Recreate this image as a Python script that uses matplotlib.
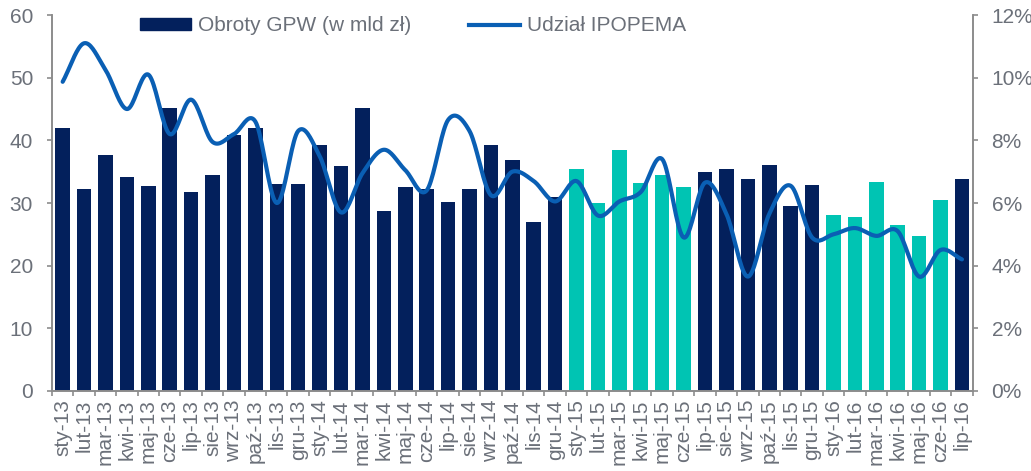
import numpy as np
import matplotlib.pyplot as plt
from matplotlib.patches import Patch
from matplotlib.lines import Line2D

plt.rcParams['font.family'] = ['Liberation Sans', 'DejaVu Sans']

months = ["sty", "lut", "mar", "kwi", "maj", "cze", "lip", "sie", "wrz", "paź", "lis", "gru"]
labels = [m + "-" + y for y in ["13", "14", "15"] for m in months] + \
         [m + "-16" for m in months[:7]]

# Obroty GPW (w mld zł)
turnover = [41.9, 32.3, 37.7, 34.1, 32.7, 45.2, 31.8, 34.5, 40.8, 42.0, 33.0, 33.0,
            39.3, 35.9, 45.2, 28.8, 32.6, 32.2, 30.1, 32.2, 39.2, 36.8, 26.9, 31.0,
            35.4, 30.0, 38.4, 33.2, 34.5, 32.5, 35.0, 35.4, 33.9, 36.1, 29.6, 32.8,
            28.1, 27.7, 33.3, 26.5, 24.7, 30.5, 33.8]

# Udział IPOPEMA (%)
share = [9.87, 11.1, 10.25, 9.0, 10.1, 8.2, 9.3, 7.95, 8.2, 8.6, 6.0, 8.3,
         7.5, 5.7, 6.95, 7.7, 7.05, 6.4, 8.65, 8.3, 6.25, 7.0, 6.7, 6.05,
         6.7, 5.6, 6.05, 6.35, 7.4, 4.9, 6.65, 5.65, 3.65, 5.65, 6.55, 4.9,
         5.0, 5.2, 4.95, 5.1, 3.65, 4.5, 4.2]

# highlighted months (teal bars)
highlight = ["sty-15", "lut-15", "mar-15", "kwi-15", "maj-15", "cze-15",
             "sty-16", "lut-16", "mar-16", "kwi-16", "maj-16", "cze-16"]

navy = "#03205c"
teal = "#00c4b3"
line_c = "#0a5fb4"
grey = "#6b7079"
axis_c = "#8c8c8c"
fs = 15


def smooth(xs, ys, n=20):
    # Catmull-Rom curve through the points, like Excel's smoothed line
    xs = np.asarray(xs, float)
    ys = np.asarray(ys, float)
    px = np.concatenate([[2 * xs[0] - xs[1]], xs, [2 * xs[-1] - xs[-2]]])
    py = np.concatenate([[2 * ys[0] - ys[1]], ys, [2 * ys[-1] - ys[-2]]])
    ox, oy = [], []
    t = np.linspace(0, 1, n, endpoint=False)
    for i in range(1, len(px) - 2):
        for p, o in ((px, ox), (py, oy)):
            p0, p1, p2, p3 = p[i - 1], p[i], p[i + 1], p[i + 2]
            o.extend(0.5 * (2 * p1 + (-p0 + p2) * t
                            + (2 * p0 - 5 * p1 + 4 * p2 - p3) * t ** 2
                            + (-p0 + 3 * p1 - 3 * p2 + p3) * t ** 3))
    ox.append(xs[-1])
    oy.append(ys[-1])
    return np.array(ox), np.array(oy)


fig = plt.figure(figsize=(10.31, 4.71), dpi=100)
ax = fig.add_axes([0.0504, 0.170, 0.893, 0.798])
x = np.arange(len(labels))
colors = [teal if l in highlight else navy for l in labels]
ax.bar(x, turnover, width=0.68, color=colors, zorder=2)

ax.set_ylim(0, 60)
ax.set_yticks(range(0, 61, 10))
ax.set_xlim(-0.5, len(labels) - 0.5)
ax.set_xticks(x)
ax.set_xticklabels(labels, rotation=90)
ax.set_xticks(np.arange(-0.5, len(labels), 1), minor=True)
ax.tick_params(axis='x', which='major', length=0, pad=6, labelsize=fs, colors=grey)
ax.tick_params(axis='x', which='minor', length=3.6, color=axis_c, width=1.2)
ax.tick_params(axis='y', length=3.6, color=axis_c, width=1.2, pad=10,
               labelsize=fs, colors=grey)

ax2 = ax.twinx()
sx, sy = smooth(x, share)
ax2.plot(sx, sy, color=line_c, lw=3, zorder=3, solid_capstyle='round')
ax2.set_ylim(0, 12)
ax2.set_yticks(range(0, 13, 2))
ax2.set_yticklabels([f"{v}%" for v in range(0, 13, 2)])
ax2.tick_params(axis='y', length=3.6, color=axis_c, width=1.2, pad=10,
                labelsize=fs, colors=grey)

for a in (ax, ax2):
    a.spines['top'].set_visible(False)
    for s in ('left', 'right', 'bottom'):
        a.spines[s].set_color(axis_c)
        a.spines[s].set_linewidth(1.2)

handles = [Patch(color=navy), Line2D([0], [0], color=line_c, lw=3)]
leg = ax2.legend(handles, ["Obroty GPW (w mld zł)", "Udział IPOPEMA"],
                 loc='upper left', bbox_to_anchor=(0.0847, 1.024), ncol=2,
                 frameon=False, fontsize=fs, borderpad=0, handlelength=2.45,
                 handleheight=0.55, columnspacing=2.8, handletextpad=0.3)
for t in leg.get_texts():
    t.set_color(grey)

fig.savefig("out.png", dpi=100)
